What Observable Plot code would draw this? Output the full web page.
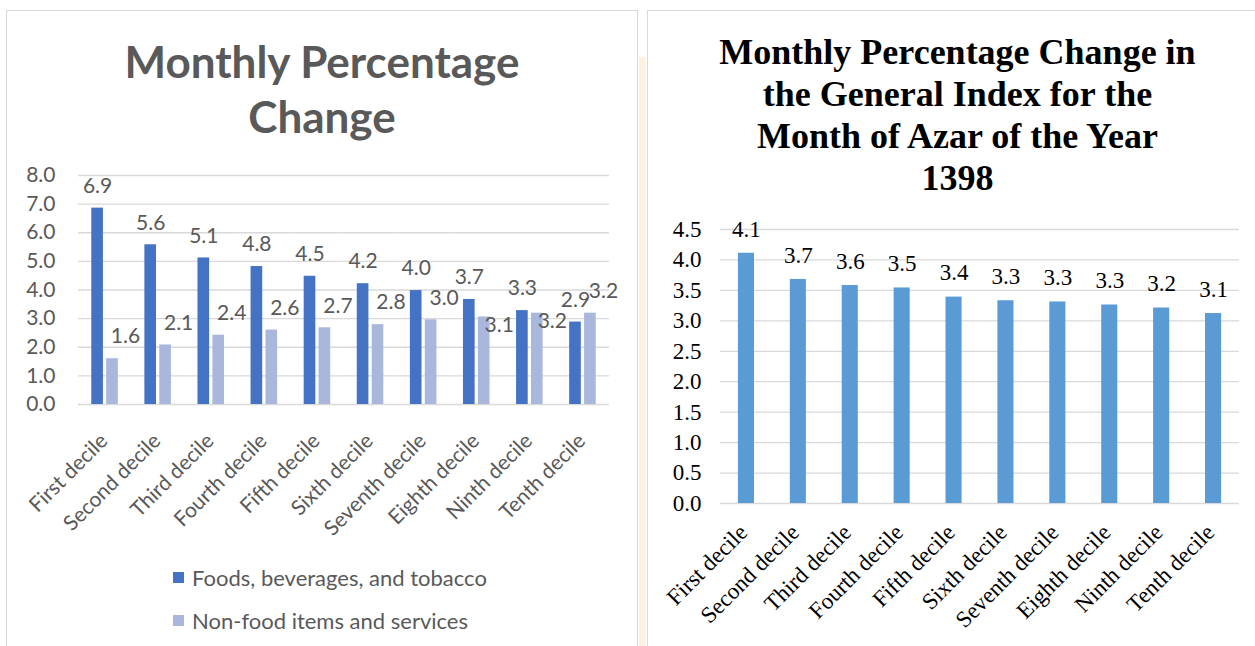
<!DOCTYPE html>
<html><head><meta charset="utf-8">
<script src="https://cdn.jsdelivr.net/npm/d3@7"></script>
<script src="https://cdn.jsdelivr.net/npm/@observablehq/plot@0.6"></script>
<style>
html,body{margin:0;padding:0;background:#fff;width:1255px;height:646px;overflow:hidden;}
body{position:relative;}
.abs{position:absolute;}
#leftPanel{left:6px;top:10px;width:632px;height:700px;border:1px solid #d9d9d9;box-sizing:border-box;}
#rightPanel{left:647px;top:10px;width:700px;height:700px;border:1px solid #d9d9d9;box-sizing:border-box;}
#strip{left:639px;top:57px;width:7px;height:589px;background:#fdf2df;}
#leftTitle{left:7px;width:630px;top:34px;text-align:center;font-family:Lato,sans-serif;font-weight:700;font-size:44px;line-height:55px;color:#595959;}
#rightTitle{left:648px;width:619px;top:31px;text-align:center;font-family:"Liberation Serif",serif;font-weight:700;font-size:36px;line-height:42px;color:#000;}
.leg{font-family:Lato,sans-serif;font-size:22px;color:#595959;white-space:nowrap;display:flex;align-items:center;}
.sw{width:11px;height:11px;display:inline-block;margin-right:8px;}
#leftChart{left:0;top:150px;}
#rightChart{left:648px;top:200px;}
</style>
</head><body>
<div id="leftPanel" class="abs"></div>
<div id="rightPanel" class="abs"></div>
<div id="strip" class="abs"></div>
<div id="leftTitle" class="abs"></div>
<div id="rightTitle" class="abs"></div>
<div id="leftChart" class="abs"></div>
<div id="rightChart" class="abs"></div>
<div id="legend" class="abs" style="left:173px;top:564px;"></div>
<script>
// ---- data ----
const deciles = ["First decile","Second decile","Third decile","Fourth decile","Fifth decile","Sixth decile","Seventh decile","Eighth decile","Ninth decile","Tenth decile"];
const seriesNames = ["Foods, beverages, and tobacco","Non-food items and services"];
const foodValues = [6.86,5.58,5.12,4.82,4.48,4.22,3.98,3.67,3.28,2.88];
const nonFoodValues = [1.60,2.08,2.42,2.60,2.68,2.79,2.96,3.06,3.19,3.19];
const generalValues = [4.11,3.68,3.58,3.54,3.39,3.33,3.31,3.26,3.21,3.12];
const leftTicks = [0,1,2,3,4,5,6,7,8];
const rightTicks = [0,0.5,1,1.5,2,2.5,3,3.5,4,4.5];
const leftTitleLines = ["Monthly Percentage","Change"];
const rightTitleLines = ["Monthly Percentage Change in","the General Index for the","Month of Azar of the Year","1398"];
const seriesColors = ["#4472C4","#A9B7DC"];
const generalColor = "#5B9BD5";

// ---- titles & legend ----
document.getElementById("leftTitle").innerHTML = leftTitleLines.join("<br>");
document.getElementById("rightTitle").innerHTML = rightTitleLines.join("<br>");
document.getElementById("legend").innerHTML = seriesNames.map((s,i)=>
  `<div class="leg" style="height:26px;margin-bottom:17px"><span class="sw" style="background:${seriesColors[i]}"></span>${s}</div>`).join("");

// ---- left chart ----
const rows = deciles.flatMap((d,i)=>[
  {decile:d, series:seriesNames[0], value:foodValues[i], other:nonFoodValues[i]},
  {decile:d, series:seriesNames[1], value:nonFoodValues[i], other:foodValues[i]}
]);
const fmt = d=>d.toFixed(1);
const darkRows = rows.filter(r=>r.series===seriesNames[0]);
const lightRows = rows.filter(r=>r.series===seriesNames[1]);
const crowded = r => (r.other - r.value) > 0 && (r.other - r.value) < 0.8;

const left = Plot.plot({
  width: 638, height: 390,
  marginLeft: 78, marginRight: 29, marginTop: 25, marginBottom: 136,
  style: {fontFamily:"Lato,sans-serif", fontSize:"21px", color:"#595959", background:"transparent", overflow:"visible"},
  fx: {domain: deciles, padding: 0, round: false, label: null},
  x: {domain: seriesNames, paddingInner: 0.22, paddingOuter: 0.89, round: false, axis: null},
  y: {domain: [0,8], label: null},
  color: {domain: seriesNames, range: seriesColors},
  marks: [
    Plot.ruleY(leftTicks, {stroke:"#d9d9d9", strokeWidth:1.3}),
    Plot.barY(rows, {fx:"decile", x:"series", y:"value", fill:"series"}),
    Plot.text(darkRows, {fx:"decile", x:"series", y:"value", text:d=>fmt(d.value), dy:-22, fill:"#595959"}),
    Plot.text(lightRows.filter(r=>!crowded(r)), {fx:"decile", x:"series", y:"value", text:d=>fmt(d.value), dx:13, dy:-22, fill:"#595959"}),
    Plot.text(lightRows.filter(crowded), {fx:"decile", x:"series", y:"value", text:d=>fmt(d.value), dx:15, dy:8, fill:"#595959"}),
    Plot.axisY({ticks:leftTicks, tickFormat:fmt, tickSize:0, tickPadding:23, label:null}),
    Plot.axisFx({anchor:"bottom", tickRotate:-45, tickSize:0, tickPadding:12, dx:-1, dy:21, label:null})
  ]
});
document.getElementById("leftChart").appendChild(left);

// ---- right chart ----
const generalRows = deciles.map((d,i)=>({decile:d, value:generalValues[i]}));
const right = Plot.plot({
  width: 607, height: 446,
  marginLeft: 72, marginRight: 16, marginTop: 29, marginBottom: 143,
  style: {fontFamily:"'Liberation Serif',serif", fontSize:"23px", color:"#000", background:"transparent", overflow:"visible"},
  x: {domain: deciles, paddingInner: 0.69, paddingOuter: 0.345, round: false, label: null},
  y: {domain: [0,4.5], label: null},
  marks: [
    Plot.ruleY(rightTicks, {stroke:"#d9d9d9", strokeWidth:1.3}),
    Plot.barY(generalRows, {x:"decile", y:"value", fill:generalColor}),
    Plot.text(generalRows, {x:"decile", y:"value", text:d=>fmt(d.value), dy:-24, fill:"#000"}),
    Plot.axisY({ticks:rightTicks, tickFormat:fmt, tickSize:0, tickPadding:19, label:null}),
    Plot.axisX({tickRotate:-45, tickSize:0, tickPadding:12, dx:-3, dy:13, label:null})
  ]
});
document.getElementById("rightChart").appendChild(right);
</script>
</body></html>
